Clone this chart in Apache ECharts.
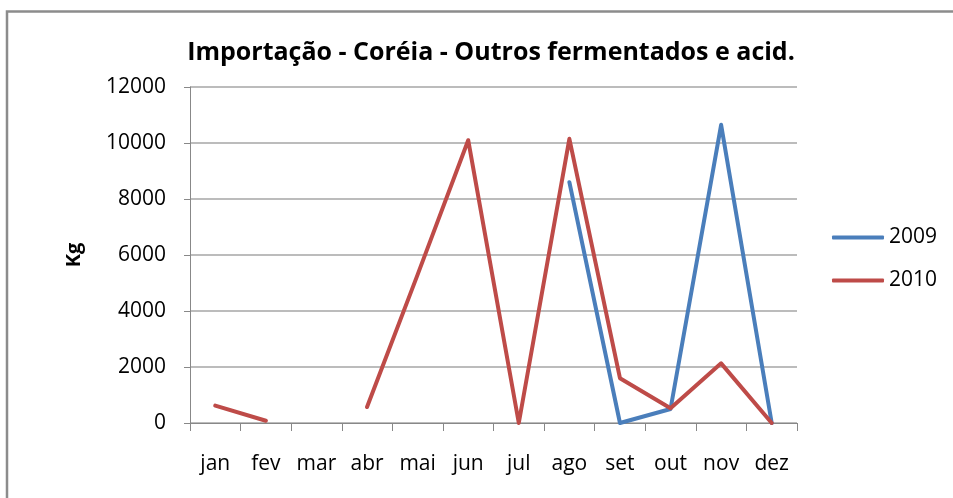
<!DOCTYPE html>
<html>
<head>
<meta charset="utf-8">
<script src="https://cdn.jsdelivr.net/npm/echarts@6/dist/echarts.min.js"></script>
<style>
  html, body { margin: 0; padding: 0; background: #fff; }
  #chart { width: 953px; height: 498px; }
</style>
</head>
<body>
<div id="chart"></div>
<script>
const months = ['jan', 'fev', 'mar', 'abr', 'mai', 'jun', 'jul', 'ago', 'set', 'out', 'nov', 'dez'];
const serie2009 = [null, null, null, null, null, null, null, 8600, 0, 500, 10650, 0];
const serie2010 = [620, 80, null, 570, 5300, 10100, 0, 10150, 1600, 530, 2130, 0];
const yTicks = { min: 0, max: 12000, interval: 2000 };

const font = 'Open Sans, Liberation Sans, sans-serif';
const myChart = echarts.init(document.getElementById('chart'), null, { width: 953, height: 498 });

myChart.setOption({
  animation: false,
  backgroundColor: '#fff',
  graphic: [{
    type: 'rect',
    shape: { x: 7, y: 11.5, width: 960, height: 500 },
    style: { fill: 'none', stroke: '#8c8c8c', lineWidth: 2.5 },
    silent: true,
  }],
  title: {
    text: 'Importação - Coréia - Outros fermentados e acid.',
    left: 486,
    top: 35,
    textAlign: 'center',
    textStyle: { fontFamily: font, fontWeight: 'bold', fontSize: 25, color: '#000' },
  },
  legend: {
    orient: 'vertical',
    left: 827,
    top: 222,
    itemWidth: 52,
    itemHeight: 4,
    itemGap: 22,
    icon: 'roundRect',
    textStyle: { fontFamily: font, fontSize: 21, color: '#000', padding: [0, 0, 0, 0] },
    data: ['2009', '2010'],
  },
  grid: { left: 190, right: 156, top: 87, bottom: 75 },
  xAxis: {
    type: 'category',
    data: months,
    boundaryGap: true,
    axisLine: { lineStyle: { color: '#888', width: 1 } },
    axisTick: { show: true, interval: 0, length: 8, lineStyle: { color: '#888' } },
    axisLabel: { interval: 0, fontFamily: font, fontSize: 21, color: '#000', margin: 31 },
  },
  yAxis: {
    type: 'value',
    min: yTicks.min,
    max: yTicks.max,
    interval: yTicks.interval,
    name: 'Kg',
    nameLocation: 'middle',
    nameGap: 106,
    nameTextStyle: { fontFamily: font, fontWeight: 'bold', fontSize: 20, color: '#000' },
    axisLine: { show: true, lineStyle: { color: '#888' } },
    axisTick: { show: true, length: 6, lineStyle: { color: '#888' } },
    axisLabel: { fontFamily: font, fontSize: 21, color: '#000', margin: 24, formatter: (v) => String(v) },
    splitLine: { lineStyle: { color: '#a6a6a6', width: 1.5 } },
  },
  series: [
    {
      name: '2009',
      type: 'line',
      data: serie2009,
      symbol: 'none',
      connectNulls: false,
      lineStyle: { color: '#4a7ebb', width: 4, cap: 'round', join: 'round' },
      itemStyle: { color: '#4a7ebb' },
    },
    {
      name: '2010',
      type: 'line',
      data: serie2010,
      symbol: 'none',
      connectNulls: false,
      lineStyle: { color: '#be4b48', width: 4, cap: 'round', join: 'round' },
      itemStyle: { color: '#be4b48' },
    },
  ],
});
</script>
</body>
</html>
